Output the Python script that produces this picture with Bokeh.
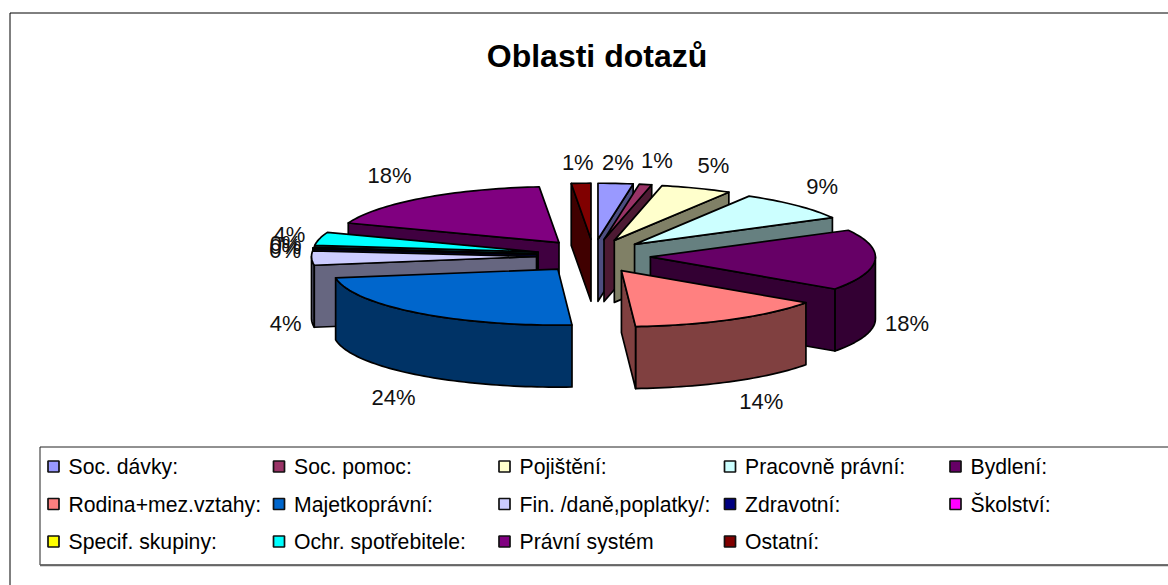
import math
from bokeh.plotting import figure
from bokeh.models import Range1d
from bokeh.core.properties import value
from bokeh.embed import file_html
from bokeh.resources import INLINE

categories = ["Soc. dávky:", "Soc. pomoc:", "Pojištění:", "Pracovně právní:", "Bydlení:",
              "Rodina+mez.vztahy:", "Majetkoprávní:", "Fin. /daně,poplatky/:", "Zdravotní:", "Školství:",
              "Specif. skupiny:", "Ochr. spotřebitele:", "Právní systém", "Ostatní:"]
shares = [2.5, 0.9, 5.1, 8.6, 17.6, 14.3, 23.5, 4.1, 0.1, 0.1, 0.1, 3.8, 17.9, 1.4]
colors = ["#9999FF", "#993366", "#FFFFCC", "#CCFFFF", "#660066", "#FF8080", "#0066CC", "#CCCCFF",
          "#000080", "#FF00FF", "#FFFF00", "#00FFFF", "#800080", "#800000"]
title = "Oblasti dotazů"

# layout only: small shifts of the percentage labels from their computed place
label_dx = [0, 6, 6, 4, 2, 15, -5, 4, 2, 2, 2, -1, -15, -2]
label_dy = [1, -2, -2, -4, 0, 1, 6, 3, 4, 1, -2, 1, -5, 1]

W, H = 1168, 585
CX, CY = 593, 255.5    # pie centre
EXPL, EXPL_Y = 57, 16.8
RX, RY = 225, 56
DEPTH = 62
FONT = "Liberation Sans"


def dark(c):
    r, g, b = int(c[1:3], 16), int(c[3:5], 16), int(c[5:7], 16)
    return "#%02X%02X%02X" % ((r + 1) // 2, (g + 1) // 2, (b + 1) // 2)


p = figure(width=W, height=H, output_backend="svg", toolbar_location=None,
           x_range=Range1d(0, W), y_range=Range1d(H, 0), min_border=0,
           outline_line_color=None, background_fill_color="white", border_fill_color="white")
p.xaxis.visible = False
p.yaxis.visible = False
p.xgrid.visible = False
p.ygrid.visible = False

# chart frame (runs past the bottom and right of the picture) and legend frame
p.quad(left=[9.5], right=[1180], top=[12.5], bottom=[600], fill_color="white", line_color="black", line_width=1)
p.quad(left=[39.5], right=[1180], top=[446.5], bottom=[564.5], fill_color="white", line_color="#222222", line_width=1)
p.line([39.5, 1180], [564.8, 564.8], line_color="#666666", line_width=2)

# pie geometry from the shares
total = sum(shares)
slices = []
cum = 0.0
for i, s in enumerate(shares):
    t1 = cum / total * 2 * math.pi
    cum += s
    t2 = cum / total * 2 * math.pi
    mid = (t1 + t2) / 2
    ax = CX + EXPL * math.sin(mid)
    ay = CY - EXPL_Y * math.cos(mid)
    slices.append((i, t1, t2, mid, ax, ay))


def arc(ax, ay, a, b, dy=0.0):
    n = max(2, int((b - a) / math.radians(1.5)) + 2)
    ts = [a + (b - a) * k / (n - 1) for k in range(n)]
    return [ax + RX * math.sin(t) for t in ts], [ay - RY * math.cos(t) + dy for t in ts]


xs, ys, fills = [], [], []
for i, t1, t2, mid, ax, ay in sorted(slices, key=lambda r: -math.cos(r[3])):
    c = colors[i]
    # outer wall (only the part that faces the viewer)
    lo, hi = max(t1, math.pi / 2), min(t2, 3 * math.pi / 2)
    if hi > lo:
        x1, y1 = arc(ax, ay, lo, hi)
        x2, y2 = arc(ax, ay, lo, hi, DEPTH)
        xs.append(x1 + x2[::-1]); ys.append(y1 + y2[::-1]); fills.append(dark(c))
    # radial walls
    if math.sin(t1) < 0:
        ex, ey = ax + RX * math.sin(t1), ay - RY * math.cos(t1)
        xs.append([ax, ex, ex, ax]); ys.append([ay, ey, ey + DEPTH, ay + DEPTH]); fills.append(dark(c))
    if math.sin(t2) > 0:
        ex, ey = ax + RX * math.sin(t2), ay - RY * math.cos(t2)
        xs.append([ax, ex, ex, ax]); ys.append([ay, ey, ey + DEPTH, ay + DEPTH]); fills.append(dark(c))
    # top
    x1, y1 = arc(ax, ay, t1, t2)
    xs.append([ax] + x1); ys.append([ay] + y1); fills.append(c)

p.patches(xs, ys, fill_color=fills, line_color="black", line_width=1.7, line_join="round")

# percentage labels
lx, ly, lt = [], [], []
for i, t1, t2, mid, ax, ay in slices:
    sx, cy_ = math.sin(mid), math.cos(mid)
    lx.append(ax + (RX + 30) * sx + label_dx[i])
    ly.append(ay - (RY + 22) * cy_ + (DEPTH if cy_ < 0 else 0) + label_dy[i])
    lt.append("%d%%" % round(shares[i] / total * 100))
p.text(lx, ly, lt, text_font=value(FONT), text_font_size="22px", text_color="#111111",
       text_align="center", text_baseline="middle")

# title
p.text([596.5], [55.5], [title], text_font=value(FONT), text_font_size="32px", text_font_style="bold",
       text_color="black", text_align="center", text_baseline="middle")

# legend
COL0, COLW, ROW0, ROWH, PER_ROW = 53, 225.5, 466, 37.5, 5
sw_x = [COL0 + COLW * (i % PER_ROW) for i in range(len(categories))]
sw_y = [ROW0 + ROWH * (i // PER_ROW) for i in range(len(categories))]
p.rect(sw_x, sw_y, width=11, height=11, fill_color=colors, line_color="#111111", line_width=1.7)
p.text([x + 15 for x in sw_x], sw_y, categories, text_font=value(FONT), text_font_size="21.2px",
       text_color="black", text_align="left", text_baseline="middle")

open("out.html", "w").write(file_html(p, INLINE))
